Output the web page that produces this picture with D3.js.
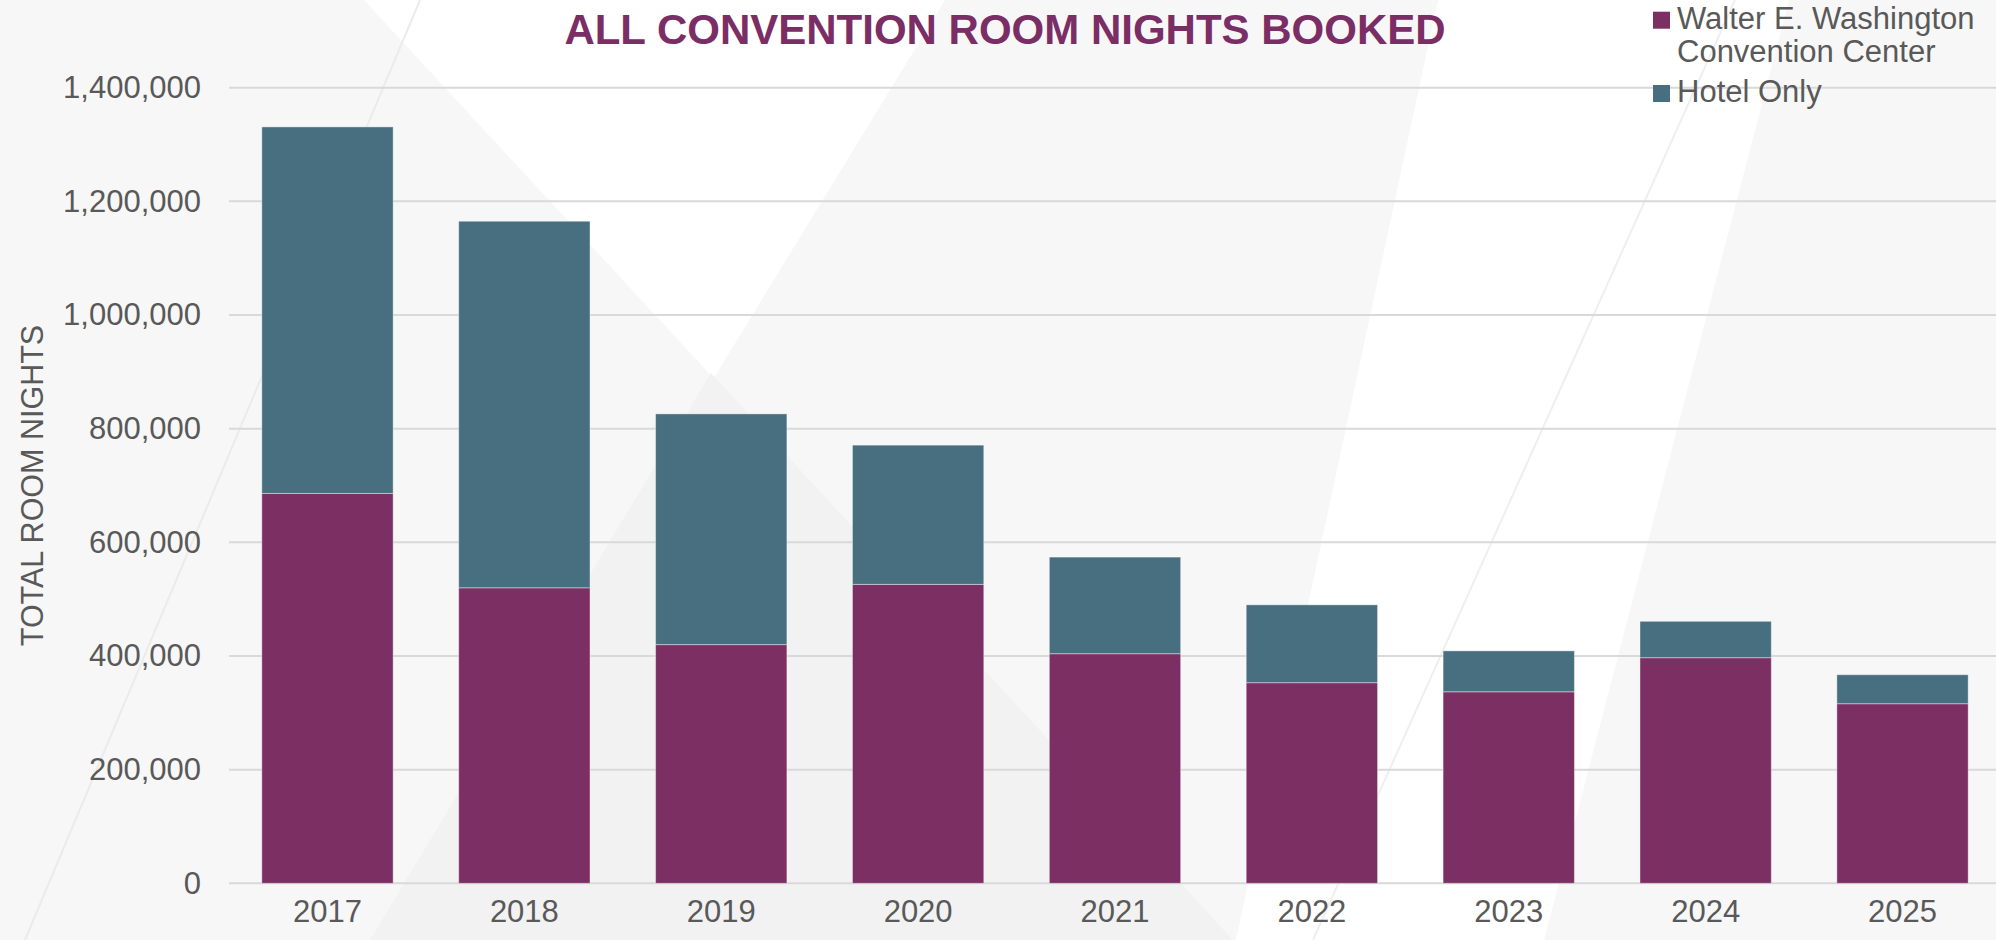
<!DOCTYPE html>
<html>
<head>
<meta charset="utf-8">
<script src="https://cdn.jsdelivr.net/npm/d3@7"></script>
<style>
  body { margin: 0; background: #ffffff; }
  text { font-family: "Liberation Sans", Arial, sans-serif; }
</style>
</head>
<body>
<div id="chart-container"></div>
<script>
// stacked bars - convention room nights booked per year

const years = ["2017", "2018", "2019", "2020", "2021", "2022", "2023", "2024", "2025"];
const conventionCenter = [686000, 520000, 420000, 526000, 404000, 353000, 337000, 397000, 316000];
const hotelOnly = [645000, 645000, 406000, 245000, 170000, 137000, 72000, 64000, 51000];
const seriesNames = ["Walter E. Washington Convention Center", "Hotel Only"];
const yTicks = [0, 200000, 400000, 600000, 800000, 1000000, 1200000, 1400000];

const svgWidth = 1996;
const svgHeight = 940;
const margin = { top: 87.7, right: 0, bottom: 56.7, left: 229 };

const purple = "#7b2f63";
const teal = "#476f7f";
const textGray = "#595959";

const svg = d3.select("#chart-container")
    .append("svg")
    .attr("width", svgWidth)
    .attr("height", svgHeight);

// background: two big crossing translucent stripes like the slide template
const bg = svg.append("g");
bg.append("rect").attr("width", svgWidth).attr("height", svgHeight).attr("fill", "#ffffff");
const shapes = [
    { pts: [[0, 0], [364, 0], [1233, 940], [0, 940]], fill: "#f7f7f7" },
    { pts: [[945, 0], [1438, 0], [1236, 940], [370, 940]], fill: "#f7f7f7" },
    { pts: [[711, 373], [1233, 940], [370, 940]], fill: "#f2f2f2" },
    { pts: [[1789, 0], [1996, 0], [1996, 940], [1544, 940]], fill: "#f7f7f7" }
];
shapes.forEach(function(s) {
    bg.append("polygon").attr("points", s.pts.map(p => p.join(",")).join(" ")).attr("fill", s.fill);
});
bg.append("line").attr("x1", 420).attr("y1", 0).attr("x2", 25).attr("y2", 940)
    .attr("stroke", "#ebebeb").attr("stroke-width", 2);
bg.append("line").attr("x1", 1735).attr("y1", 0).attr("x2", 1313).attr("y2", 940)
    .attr("stroke", "#efefef").attr("stroke-width", 2);

const scaleX = d3.scaleBand()
    .domain(years)
    .range([margin.left, 2001])
    .paddingInner(0.333)
    .paddingOuter(0.1667);

const scaleY = d3.scaleLinear()
    .domain([0, 1400000])
    .range([svgHeight - margin.bottom, margin.top]);

// gridlines
svg.append("g")
    .selectAll("line")
    .data(yTicks)
    .enter()
    .append("line")
    .attr("x1", margin.left)
    .attr("x2", svgWidth)
    .attr("y1", d => scaleY(d))
    .attr("y2", d => scaleY(d))
    .attr("stroke", "#d9d9d9")
    .attr("stroke-width", 2);

// y axis labels
const yAxis = svg.append("g")
    .attr("transform", `translate(${margin.left},0)`)
    .call(d3.axisLeft(scaleY).tickValues(yTicks).tickSize(0).tickPadding(28).tickFormat(d3.format(",")));
yAxis.select(".domain").remove();
yAxis.selectAll("text")
    .attr("font-size", "31px")
    .attr("fill", textGray)
    .attr("font-family", "Liberation Sans, Arial, sans-serif");

// x axis labels
const xAxis = svg.append("g")
    .attr("transform", `translate(0,${scaleY(0)})`)
    .call(d3.axisBottom(scaleX).tickSize(0).tickPadding(17));
xAxis.select(".domain").remove();
xAxis.selectAll("text")
    .attr("font-size", "31px")
    .attr("fill", textGray)
    .attr("font-family", "Liberation Sans, Arial, sans-serif");

// stacked bars
const rows = years.map((y, i) => ({ year: y, cc: conventionCenter[i], hotel: hotelOnly[i] }));
const stacked = d3.stack().keys(["cc", "hotel"])(rows);
const colorScale = d3.scaleOrdinal().domain(["cc", "hotel"]).range([purple, teal]);

svg.append("g")
    .selectAll("g")
    .data(stacked)
    .enter()
    .append("g")
    .attr("fill", d => colorScale(d.key))
    .selectAll("rect")
    .data(d => d)
    .enter()
    .append("rect")
    .attr("x", d => scaleX(d.data.year))
    .attr("y", d => scaleY(d[1]))
    .attr("width", scaleX.bandwidth())
    .attr("height", d => scaleY(d[0]) - scaleY(d[1]))
    .attr("stroke", "#ffffff")
    .attr("stroke-opacity", 0.4)
    .attr("stroke-width", 1);

// title
svg.append("text")
    .attr("x", 1005)
    .attr("y", 44)
    .attr("text-anchor", "middle")
    .attr("font-size", "42px")
    .attr("font-weight", "bold")
    .attr("fill", "#7b2d65")
    .text("ALL CONVENTION ROOM NIGHTS BOOKED");

// y axis title
svg.append("text")
    .attr("transform", `translate(42.7, ${(scaleY(0) + scaleY(1400000)) / 2}) rotate(-90)`)
    .attr("text-anchor", "middle")
    .attr("font-size", "30.5px")
    .attr("fill", textGray)
    .text("TOTAL ROOM NIGHTS");

// legend
const legendG = svg.append("g").attr("transform", "translate(1653, 0)");
const legendRows = [
    { color: purple, lines: ["Walter E. Washington", "Convention Center"], y: 11.7 },
    { color: teal, lines: ["Hotel Only"], y: 85 }
];
legendRows.forEach(function(r) {
    legendG.append("rect").attr("x", 0).attr("y", r.y).attr("width", 17).attr("height", 17).attr("fill", r.color);
    r.lines.forEach(function(line, j) {
        legendG.append("text")
            .attr("x", 24)
            .attr("y", r.y + 17 + j * 33.4)
            .attr("font-size", "31px")
            .attr("fill", textGray)
            .text(line);
    });
});
</script>
</body>
</html>
